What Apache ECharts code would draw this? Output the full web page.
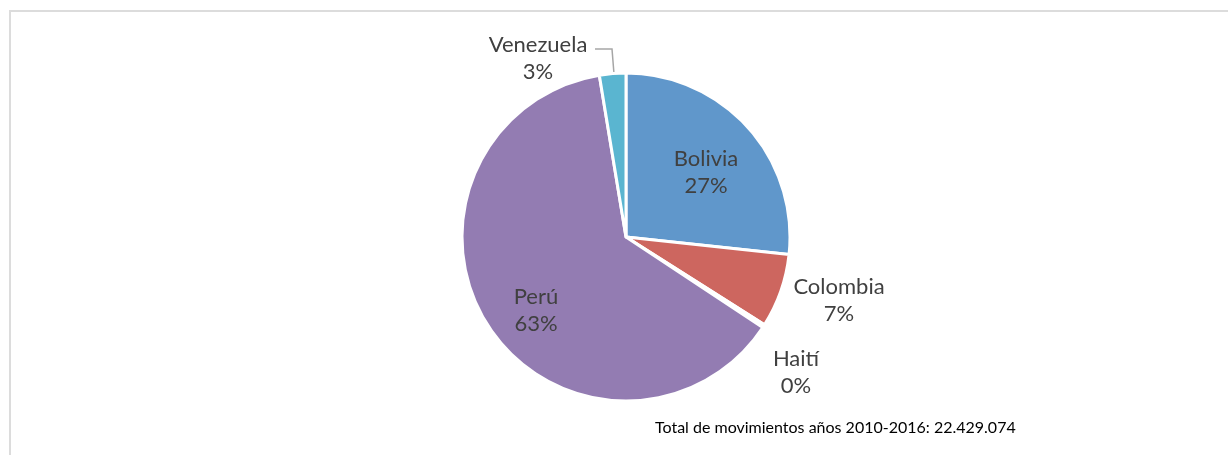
<!DOCTYPE html>
<html>
<head>
<meta charset="utf-8">
<script src="https://cdn.jsdelivr.net/npm/echarts@6/dist/echarts.min.js"></script>
<style>
  html, body { margin: 0; padding: 0; background: #ffffff; }
  #chart { width: 1228px; height: 455px; }
</style>
</head>
<body>
<div id="chart"></div>
<script>
// Share of movements by nationality (percent of total)
const countries = ['Bolivia', 'Colombia', 'Haití', 'Perú', 'Venezuela'];
const shares = [26.7, 7.3, 0.3, 63.1, 2.6];
const sliceColors = ['#6097cb', '#cd665f', '#a5c366', '#937cb2', '#5ab5d0'];
const totalNote = 'Total de movimientos años 2010-2016: 22.429.074';

// Pie geometry (pixels)
const CX = 626, CY = 237, R = 164;

// Label block centres, relative to the pie centre
const labelOffsets = {
  'Bolivia':   [80, -65],
  'Colombia':  [213, 63],
  'Haití':     [170, 135],
  'Perú':      [-90, 73],
  'Venezuela': [-88, -179]
};
const outsideLabels = ['Colombia', 'Haití', 'Venezuela'];

const chart = echarts.init(document.getElementById('chart'), null, { renderer: 'canvas' });

const pieData = countries.map((name, i) => ({
  name: name,
  value: shares[i],
  itemStyle: { color: sliceColors[i] },
  label: { position: outsideLabels.includes(name) ? 'outside' : 'inside' },
  labelLine: { show: name === 'Venezuela' }
}));

chart.setOption({
  animation: false,
  backgroundColor: '#ffffff',
  title: {
    text: totalNote,
    left: 650,
    top: 415,
    textStyle: { fontFamily: 'Lato', fontSize: 16, fontWeight: 'normal', color: '#000000' }
  },
  graphic: [{
    type: 'rect',
    silent: true,
    shape: { x: 10, y: 11, width: 1240, height: 470 },
    style: { fill: 'none', stroke: '#dcdcdc', lineWidth: 2 }
  }],
  series: [{
    type: 'pie',
    center: [CX, CY],
    radius: [0, R],
    startAngle: 90,
    clockwise: true,
    avoidLabelOverlap: false,
    emphasis: { disabled: true },
    itemStyle: { borderColor: '#ffffff', borderWidth: 3 },
    label: {
      show: true,
      formatter: p => p.name + '\n' + Math.round(p.percent) + '%',
      fontFamily: 'Lato',
      fontSize: 22,
      lineHeight: 27,
      color: '#404040',
      align: 'center'
    },
    labelLine: {
      length: 10,
      length2: 10,
      lineStyle: { color: '#a6a6a6', width: 1.5 }
    },
    labelLayout: function (params) {
      const name = countries[params.dataIndex];
      const o = labelOffsets[name];
      const out = { x: CX + o[0], y: CY + o[1], align: 'center', verticalAlign: 'middle' };
      if (name === 'Venezuela') {
        out.labelLinePoints = [[CX - 31, CY - 188], [CX - 14, CY - 188], [CX - 12, CY - 163]];
      }
      return out;
    },
    data: pieData
  }]
});
</script>
</body>
</html>
